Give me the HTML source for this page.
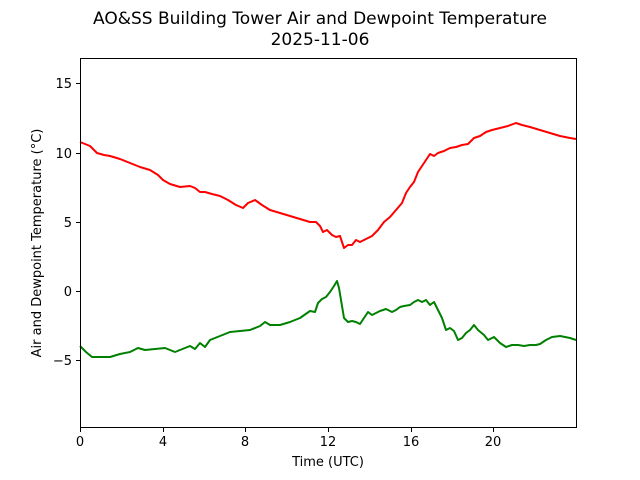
<!DOCTYPE html><html><head><style>body{margin:0;background:#fff}svg{display:block}text{font-family:"DejaVu Sans","Liberation Sans",sans-serif;fill:#000}</style></head><body>
<svg width="640" height="480" viewBox="0 0 640 480">
<rect width="640" height="480" fill="#fff"/>
<text x="320" y="24" font-size="17" text-anchor="middle">AO&amp;SS Building Tower Air and Dewpoint Temperature</text>
<text x="320" y="45" font-size="17" text-anchor="middle">2025-11-06</text>
<g fill="none" stroke-width="2" stroke-linejoin="round">
<polyline stroke="#ff0000" points="80,142 90,146 97,153 104,155 110,156 120,159 130,163 140,167 150,170 158,175 163,180 170,184 180,187 190,186 195,188 200,192 205,192 212,194 220,196 228,200 236,205 243,208 248,203 255,200 262,205 270,210 280,213 290,216 300,219 310,222 316,222 320,226 323,232 327,230 332,235 336,237 340,236 344,248 348,245 352,245 356,240 360,242 366,239 372,236 378,230 384,222 390,217 396,210 402,203 406,193 410,187 414,182 418,172 422,166 426,160 430,154 434,156 438,153 444,151 450,148 456,147 462,145 468,144 474,138 480,136 486,132 492,130 500,128 508,126 516,123 522,125 530,127 540,130 550,133 560,136 570,138 576,139"/>
<polyline stroke="#008000" points="80,346 86,352 92,357 100,357 110,357 120,354 130,352 138,348 145,350 155,349 165,348 170,350 175,352 180,350 185,348 190,346 195,349 200,343 205,347 210,340 220,336 230,332 240,331 250,330 260,326 265,322 270,325 280,325 290,322 300,318 310,311 315,312 318,303 322,299 326,297 330,292 334,286 337,281 339,288 341,300 344,318 348,322 352,321 356,322 360,324 364,318 368,312 372,315 376,313 380,311 386,309 392,312 396,310 400,307 404,306 410,305 414,302 418,300 422,302 426,300 430,305 434,302 438,310 442,318 446,330 450,328 454,331 458,340 462,338 466,333 470,330 474,325 478,330 484,335 488,340 494,337 500,343 506,347 512,345 518,345 524,346 530,345 536,345 540,344 546,340 552,337 560,336 570,338 576,340"/>
</g>
<rect x="80.5" y="58.5" width="496" height="369" fill="none" stroke="#000" stroke-width="1"/>
<g stroke="#000" stroke-width="1">
<line x1="80.5" y1="428" x2="80.5" y2="432"/><line x1="163.5" y1="428" x2="163.5" y2="432"/><line x1="245.5" y1="428" x2="245.5" y2="432"/><line x1="328.5" y1="428" x2="328.5" y2="432"/><line x1="411.5" y1="428" x2="411.5" y2="432"/><line x1="493.5" y1="428" x2="493.5" y2="432"/>
<line x1="76" y1="83.5" x2="80" y2="83.5"/><line x1="76" y1="153.5" x2="80" y2="153.5"/><line x1="76" y1="222.5" x2="80" y2="222.5"/><line x1="76" y1="291.5" x2="80" y2="291.5"/><line x1="76" y1="360.5" x2="80" y2="360.5"/>
</g>
<g font-size="13" text-anchor="middle">
<text x="80" y="446">0</text><text x="163" y="446">4</text><text x="245" y="446">8</text><text x="328" y="446">12</text><text x="411" y="446">16</text><text x="493" y="446">20</text>
</g>
<g font-size="13" text-anchor="end">
<text x="72" y="88">15</text><text x="72" y="158">10</text><text x="72" y="227">5</text><text x="72" y="296">0</text><text x="72" y="365">−5</text>
</g>
<text x="328" y="466" font-size="13" text-anchor="middle">Time (UTC)</text>
<text transform="translate(41,243) rotate(-90)" font-size="13" text-anchor="middle">Air and Dewpoint Temperature (°C)</text>
</svg></body></html>
